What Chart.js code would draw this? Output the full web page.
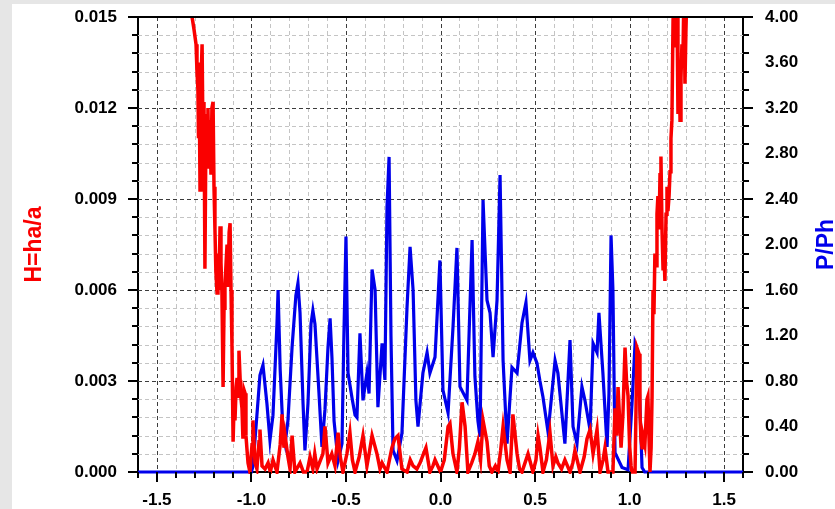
<!DOCTYPE html>
<html>
<head>
<meta charset="utf-8">
<script src="https://cdn.jsdelivr.net/npm/chart.js@4.4.0/dist/chart.umd.min.js"></script>
<style>
    html, body { margin: 0; padding: 0; background: #fff; }
    #wrap { position: relative; width: 835px; height: 509px; }
</style>
</head>
<body>
<div id="wrap"><canvas id="chart" width="835" height="509"></canvas></div>
<script>
// H = ha/a [x, H]
const hRatio = [
    [-1.330, 0.0175], [-1.314, 0.0150], [-1.304, 0.0146], [-1.293, 0.0141], [-1.288, 0.0132],
    [-1.283, 0.0126], [-1.280, 0.0110], [-1.277, 0.0135], [-1.272, 0.0093], [-1.267, 0.0128],
    [-1.261, 0.0141], [-1.256, 0.0108], [-1.251, 0.0122], [-1.246, 0.0067], [-1.240, 0.0118],
    [-1.235, 0.0102], [-1.230, 0.0120], [-1.225, 0.0100], [-1.219, 0.0116], [-1.214, 0.0098],
    [-1.209, 0.0120], [-1.203, 0.0122], [-1.198, 0.0094], [-1.193, 0.0080], [-1.188, 0.0066],
    [-1.182, 0.0059], [-1.177, 0.0072], [-1.172, 0.0060], [-1.166, 0.0081], [-1.161, 0.0069],
    [-1.156, 0.0059], [-1.150, 0.0028], [-1.145, 0.0054], [-1.140, 0.0061], [-1.134, 0.0069],
    [-1.129, 0.0075], [-1.124, 0.0061], [-1.118, 0.0079], [-1.113, 0.0082], [-1.108, 0.0060],
    [-1.103, 0.0042], [-1.097, 0.0010], [-1.092, 0.0022], [-1.087, 0.0017], [-1.081, 0.0028],
    [-1.076, 0.0031], [-1.071, 0.0025], [-1.066, 0.0040], [-1.060, 0.0031], [-1.055, 0.0024],
    [-1.050, 0.0021], [-1.045, 0.0011], [-1.039, 0.0027], [-1.034, 0.0026], [-1.029, 0.0012],
    [-1.023, 0.0007], [-1.018, 0.0003], [-1.008, 0.0000], [-0.997, 0.0009], [-0.992, 0.0017],
    [-0.981, 0.0003], [-0.971, 0.0001], [-0.960, 0.0010], [-0.955, 0.0014], [-0.944, 0.0002],
    [-0.928, 0.0001], [-0.912, 0.0003], [-0.900, 0.0000], [-0.886, 0.0004], [-0.865, 0.0000],
    [-0.848, 0.0009], [-0.838, 0.0019], [-0.828, 0.0008], [-0.822, 0.0012], [-0.807, 0.0005],
    [-0.796, 0.0001], [-0.785, 0.0012], [-0.770, 0.0000], [-0.743, 0.0003], [-0.725, 0.0000],
    [-0.706, 0.0000], [-0.690, 0.0005], [-0.675, 0.0001], [-0.665, 0.0006], [-0.653, 0.0001],
    [-0.622, 0.0006], [-0.611, 0.0015], [-0.595, 0.0003], [-0.575, 0.0006], [-0.558, 0.0002],
    [-0.542, 0.0013], [-0.530, 0.0005], [-0.516, 0.0000], [-0.495, 0.0006], [-0.479, 0.0013],
    [-0.466, 0.0004], [-0.452, 0.0000], [-0.430, 0.0005], [-0.410, 0.0012], [-0.389, 0.0002],
    [-0.375, 0.0007], [-0.362, 0.0012], [-0.336, 0.0006], [-0.320, 0.0001], [-0.309, 0.0003],
    [-0.283, 0.0000], [-0.257, 0.0008], [-0.241, 0.0011], [-0.225, 0.0012], [-0.204, 0.0001],
    [-0.177, 0.0000], [-0.160, 0.0004], [-0.145, 0.0002], [-0.125, 0.0001], [-0.108, 0.0003],
    [-0.090, 0.0006], [-0.077, 0.0008], [-0.056, 0.0000], [-0.040, 0.0002], [-0.029, 0.0004],
    [0.000, 0.0000], [0.020, 0.0004], [0.040, 0.0015], [0.050, 0.0016], [0.066, 0.0006],
    [0.087, 0.0000], [0.100, 0.0008], [0.114, 0.0023], [0.130, 0.0015], [0.145, 0.0000],
    [0.165, 0.0003], [0.182, 0.0006], [0.198, 0.0010], [0.212, 0.0004], [0.225, 0.0017],
    [0.246, 0.0010], [0.258, 0.0002], [0.272, 0.0000], [0.290, 0.0002], [0.304, 0.0000],
    [0.318, 0.0007], [0.331, 0.0015], [0.352, 0.0004], [0.368, 0.0000], [0.383, 0.0019],
    [0.405, 0.0006], [0.418, 0.0001], [0.431, 0.0000], [0.447, 0.0003], [0.463, 0.0006],
    [0.489, 0.0000], [0.505, 0.0004], [0.516, 0.0012], [0.526, 0.0008], [0.542, 0.0000],
    [0.560, 0.0004], [0.579, 0.0013], [0.595, 0.0002], [0.610, 0.0005], [0.621, 0.0003],
    [0.640, 0.0001], [0.658, 0.0004], [0.685, 0.0000], [0.700, 0.0003], [0.711, 0.0007],
    [0.738, 0.0000], [0.760, 0.0005], [0.775, 0.0011], [0.791, 0.0014], [0.807, 0.0006],
    [0.828, 0.0014], [0.844, 0.0000], [0.860, 0.0004], [0.870, 0.0008], [0.886, 0.0000],
    [0.912, 0.0000], [0.923, 0.0021], [0.932, 0.0012], [0.939, 0.0028], [0.955, 0.0008],
    [0.965, 0.0019], [0.976, 0.0041], [0.984, 0.0030], [0.992, 0.0025], [1.000, 0.0009],
    [1.008, 0.0002], [1.013, 0.0000], [1.029, 0.0000], [1.039, 0.0041], [1.050, 0.0039],
    [1.055, 0.0020], [1.060, 0.0011], [1.066, 0.0008], [1.071, 0.0012], [1.081, 0.0009],
    [1.092, 0.0024], [1.097, 0.0025], [1.103, 0.0011], [1.108, 0.0000], [1.114, 0.0008],
    [1.119, 0.0025], [1.124, 0.0060], [1.129, 0.0052], [1.134, 0.0072], [1.140, 0.0068],
    [1.145, 0.0085], [1.150, 0.0091], [1.156, 0.0080], [1.161, 0.0098], [1.166, 0.0104],
    [1.172, 0.0079], [1.177, 0.0067], [1.182, 0.0072], [1.187, 0.0063], [1.193, 0.0085],
    [1.198, 0.0094], [1.203, 0.0086], [1.209, 0.0091], [1.214, 0.0099], [1.219, 0.0110],
    [1.224, 0.0116], [1.230, 0.0149], [1.240, 0.0160], [1.246, 0.0140], [1.251, 0.0152],
    [1.256, 0.0118], [1.262, 0.0135], [1.267, 0.0116], [1.272, 0.0130], [1.277, 0.0141],
    [1.282, 0.0135], [1.288, 0.0160], [1.293, 0.0128], [1.298, 0.0145], [1.304, 0.0160],
    [1.320, 0.0180]
];

// P/Ph [x, P/Ph]
const pRatio = [
    [-1.600, 0], [-1.000, 0], [-0.992, 0.05], [-0.971, 0.50], [-0.955, 0.85],
    [-0.939, 0.94], [-0.918, 0.60], [-0.902, 0.28], [-0.886, 0.50], [-0.865, 1.30],
    [-0.859, 1.60], [-0.848, 0.90], [-0.833, 0.35], [-0.822, 0.25], [-0.807, 0.45],
    [-0.785, 1.10], [-0.765, 1.55], [-0.754, 1.66], [-0.743, 1.40], [-0.727, 0.60],
    [-0.717, 0.19], [-0.701, 0.60], [-0.685, 1.30], [-0.675, 1.42], [-0.664, 1.30],
    [-0.643, 0.70], [-0.627, 0.22], [-0.611, 0.55], [-0.595, 1.10], [-0.584, 1.35],
    [-0.574, 1.00], [-0.563, 0.45], [-0.542, 0.10], [-0.521, 0.25], [-0.511, 1.20],
    [-0.500, 2.07], [-0.489, 0.87], [-0.468, 0.65], [-0.452, 0.50], [-0.442, 0.48],
    [-0.426, 1.22], [-0.410, 0.63], [-0.389, 0.87], [-0.378, 0.69], [-0.362, 1.78],
    [-0.346, 1.60], [-0.331, 0.57], [-0.309, 1.13], [-0.294, 0.81], [-0.283, 2.33],
    [-0.272, 2.77], [-0.262, 1.20], [-0.251, 0.19], [-0.230, 0.10], [-0.204, 0.34],
    [-0.177, 1.45], [-0.161, 1.98], [-0.145, 1.60], [-0.130, 0.63], [-0.119, 0.40],
    [-0.093, 0.87], [-0.071, 1.05], [-0.056, 0.87], [-0.029, 1.01], [-0.003, 1.86],
    [0.013, 0.72], [0.040, 0.52], [0.066, 1.27], [0.087, 1.97], [0.103, 0.75],
    [0.140, 0.63], [0.167, 2.04], [0.182, 0.84], [0.198, 0.45], [0.209, 0.31],
    [0.225, 2.39], [0.246, 1.51], [0.262, 1.40], [0.278, 1.01], [0.299, 1.51],
    [0.315, 2.61], [0.331, 0.98], [0.352, 0.25], [0.378, 0.92], [0.405, 0.87],
    [0.431, 1.31], [0.452, 1.49], [0.473, 0.98], [0.489, 1.05], [0.510, 0.96],
    [0.526, 0.80], [0.542, 0.66], [0.569, 0.35], [0.606, 0.98], [0.621, 0.87],
    [0.658, 0.25], [0.685, 1.16], [0.701, 0.40], [0.722, 0.25], [0.748, 0.75],
    [0.764, 0.63], [0.791, 0.37], [0.807, 1.13], [0.828, 1.05], [0.838, 1.40],
    [0.859, 0.87], [0.881, 0.22], [0.891, 0.69], [0.902, 2.08], [0.912, 1.60],
    [0.923, 0.17], [0.960, 0.04], [0.992, 0.02], [1.013, 0.60], [1.029, 1.13],
    [1.045, 1.05], [1.066, 0.04], [1.080, 0], [1.600, 0]
];

const xTickLabels = ['-1.5', '-1.0', '-0.5', '0.0', '0.5', '1.0', '1.5'];
const hTickLabels = ['0.000', '0.003', '0.006', '0.009', '0.012', '0.015'];
const pTickLabels = ['0.00', '0.40', '0.80', '1.20', '1.60', '2.00', '2.40', '2.80', '3.20', '3.60', '4.00'];

const RED = 'rgb(250, 0, 0)';
const BLUE = 'rgb(0, 0, 235)';
const FONT = "'Liberation Sans', Arial, sans-serif";

const findLabel = (labels, v) => labels.find(l => Math.abs(parseFloat(l) - v) < 1e-7) || '';

// 背景、网格、刻度线、轴标题
const frame = {
    id: 'frame',
    beforeDraw(chart) {
        const { ctx, width, height } = chart;
        ctx.save();
        ctx.fillStyle = '#e6e6e6';
        ctx.fillRect(0, 0, width, height);
        ctx.fillStyle = '#fff';
        ctx.fillRect(12, 4, width - 12, height - 4);
        ctx.restore();
    },
    beforeDatasetsDraw(chart) {
        const { ctx, chartArea: a, scales: { x, h } } = chart;
        ctx.save();
        ctx.lineWidth = 1;
        ctx.setLineDash([4, 3]);
        x.ticks.forEach((t, i) => {
            if (i === 0 || i === x.ticks.length - 1) return;
            const px = Math.round(x.getPixelForValue(t.value)) + 0.5;
            ctx.strokeStyle = findLabel(xTickLabels, t.value) ? '#3c3c3c' : '#c4c4c4';
            ctx.beginPath();
            ctx.moveTo(px, a.top);
            ctx.lineTo(px, a.bottom);
            ctx.stroke();
        });
        h.ticks.forEach((t, i) => {
            if (i === 0 || i === h.ticks.length - 1) return;
            const py = Math.round(h.getPixelForValue(t.value)) + 0.5;
            ctx.strokeStyle = findLabel(hTickLabels, t.value) ? '#3c3c3c' : '#c4c4c4';
            ctx.beginPath();
            ctx.moveTo(a.left, py);
            ctx.lineTo(a.right, py);
            ctx.stroke();
        });
        ctx.restore();
    },
    afterDraw(chart) {
        const { ctx, chartArea: a, scales: { x, h } } = chart;
        ctx.save();
        ctx.strokeStyle = '#000';
        ctx.lineWidth = 2;
        ctx.beginPath();
        ctx.moveTo(a.left - 1, a.top);
        ctx.lineTo(a.right + 1, a.top);
        ctx.stroke();

        x.ticks.forEach(t => {
            const px = Math.round(x.getPixelForValue(t.value));
            const len = findLabel(xTickLabels, t.value) ? 10 : 6;
            ctx.beginPath();
            ctx.moveTo(px, a.bottom);
            ctx.lineTo(px, a.bottom + len);
            ctx.stroke();
        });
        h.ticks.forEach(t => {
            const py = Math.round(h.getPixelForValue(t.value));
            const len = findLabel(hTickLabels, t.value) ? 10 : 6;
            ctx.beginPath();
            ctx.moveTo(a.left - len, py);
            ctx.lineTo(a.left, py);
            ctx.moveTo(a.right, py);
            ctx.lineTo(a.right + len, py);
            ctx.stroke();
        });

        const mid = (a.top + a.bottom) / 2;
        ctx.font = `bold 23px ${FONT}`;
        ctx.textAlign = 'center';
        ctx.textBaseline = 'alphabetic';
        ctx.fillStyle = RED;
        ctx.translate(41, mid);
        ctx.rotate(-Math.PI / 2);
        ctx.fillText('H=ha/a', 0, 0);
        ctx.setTransform(1, 0, 0, 1, 0, 0);
        ctx.fillStyle = BLUE;
        ctx.translate(833, mid);
        ctx.rotate(-Math.PI / 2);
        ctx.fillText('P/Ph', 0, 0);
        ctx.restore();
    }
};

const tickFont = { family: FONT, size: 17, weight: 'bold' };

new Chart(document.getElementById('chart'), {
    type: 'line',
    data: {
        datasets: [
            {
                label: 'H=ha/a',
                data: hRatio.map(([x, y]) => ({ x, y })),
                yAxisID: 'h',
                borderColor: RED,
                borderWidth: 3.5,
                pointRadius: 0,
                tension: 0,
                clip: { left: 0, top: 0, right: 0, bottom: 2 }
            },
            {
                label: 'P/Ph',
                data: pRatio.map(([x, y]) => ({ x, y })),
                yAxisID: 'p',
                borderColor: BLUE,
                borderWidth: 3.2,
                pointRadius: 0,
                tension: 0,
                clip: { left: 0, top: 0, right: 0, bottom: 2 }
            }
        ]
    },
    options: {
        responsive: false,
        animation: false,
        devicePixelRatio: 1,
        layout: { padding: { top: 17, left: 0, right: 0, bottom: 0 } },
        plugins: { legend: { display: false }, tooltip: { enabled: false } },
        scales: {
            x: {
                type: 'linear',
                min: -1.6,
                max: 1.6,
                afterBuildTicks: s => {
                    s.ticks = [];
                    for (let i = -16; i <= 16; i++) s.ticks.push({ value: i / 10 });
                },
                afterFit: s => { s.height = 37; s.paddingLeft = 0; s.paddingRight = 0; },
                grid: { display: false, drawTicks: true, tickLength: 10 },
                border: { display: true, color: '#000', width: 2 },
                ticks: {
                    autoSkip: false,
                    maxRotation: 0,
                    padding: 8,
                    color: '#000',
                    font: tickFont,
                    callback: v => findLabel(xTickLabels, v)
                }
            },
            h: {
                type: 'linear',
                position: 'left',
                min: 0,
                max: 0.015,
                afterBuildTicks: s => {
                    s.ticks = [];
                    for (let i = 0; i <= 25; i++) s.ticks.push({ value: +(i * 0.0006).toFixed(4) });
                },
                afterFit: s => { s.width = 138; s.paddingTop = 0; s.paddingBottom = 0; },
                grid: { display: false, drawTicks: true, tickLength: 10 },
                border: { display: true, color: '#000', width: 2 },
                ticks: {
                    autoSkip: false,
                    padding: 11,
                    color: '#000',
                    font: tickFont,
                    callback: v => findLabel(hTickLabels, v)
                }
            },
            p: {
                type: 'linear',
                position: 'right',
                min: 0,
                max: 4,
                afterBuildTicks: s => {
                    s.ticks = pTickLabels.map(l => ({ value: parseFloat(l) }));
                },
                afterFit: s => { s.width = 92; s.paddingTop = 0; s.paddingBottom = 0; },
                grid: { display: false, drawTicks: true, tickLength: 10 },
                border: { display: true, color: '#000', width: 2 },
                ticks: {
                    autoSkip: false,
                    padding: 12,
                    color: '#000',
                    font: tickFont,
                    callback: v => findLabel(pTickLabels, v)
                }
            }
        }
    },
    plugins: [frame]
});
</script>
</body>
</html>
